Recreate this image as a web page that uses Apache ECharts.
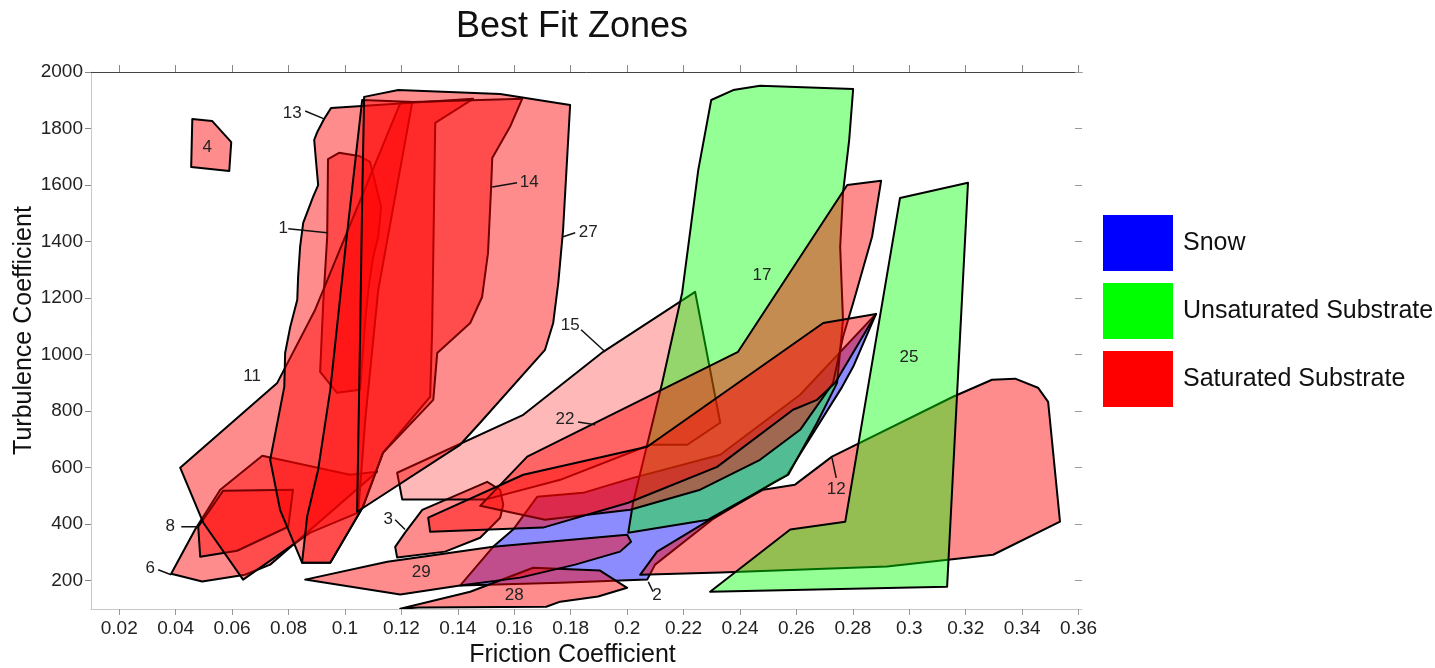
<!DOCTYPE html>
<html>
<head>
<meta charset="utf-8">
<title>Best Fit Zones</title>
<script src="https://cdn.jsdelivr.net/npm/echarts@6/dist/echarts.min.js"></script>
<style>
  html, body { margin: 0; padding: 0; background: #fff; }
  #chart { width: 1435px; height: 668px; }
</style>
</head>
<body>
<div id="chart"></div>
<script>
// zone outlines, [friction, turbulence]
const zone1 = [[0.0940,1692],[0.0979,1714],[0.1050,1703],[0.1089,1682],[0.1128,1523],[0.1118,1417],[0.1100,1346],[0.1086,1254],[0.1072,1123],[0.1054,876],[0.0972,865],[0.0912,939],[0.0923,1183],[0.0937,1417]];
const zone2 = [[0.1408,183],[0.1525,320],[0.1596,381],[0.1681,497],[0.1844,511],[0.2021,564],[0.2330,646],[0.2613,858],[0.2882,1144],[0.2801,957],[0.2762,886],[0.2567,575],[0.2517,547],[0.2301,416],[0.2099,257],[0.2071,204],[0.1763,193]];
const zone3 = [[0.1185,282],[0.1178,320],[0.1213,370],[0.1274,451],[0.1504,550],[0.1550,522],[0.1561,469],[0.1550,423],[0.1479,352],[0.1355,303]];
const zone4 = [[0.0459,1834],[0.0529,1827],[0.0597,1752],[0.0590,1650],[0.0455,1664]];
const zone6 = [[0.0384,225],[0.0494,197],[0.0646,221],[0.0735,257],[0.1114,586],[0.1018,575],[0.0707,642],[0.0558,522],[0.0469,381]];
const zone8 = [[0.0480,391],[0.0487,285],[0.0618,306],[0.0799,391],[0.0816,522],[0.0568,518]];
const zone11 = [[0.0416,600],[0.0760,900],[0.0894,1158],[0.1196,1890],[0.1238,1890],[0.1118,1229],[0.1072,770],[0.1047,441],[0.0877,370],[0.0639,204],[0.0498,405]];
const zone12 = [[0.2046,221],[0.2106,303],[0.2294,416],[0.2482,522],[0.2595,540],[0.2726,639],[0.3155,851],[0.3293,911],[0.3375,915],[0.3456,883],[0.3492,833],[0.3534,409],[0.3297,292],[0.2921,250],[0.2330,229]];
const zone13 = [[0.0951,1873],[0.1454,1905],[0.1320,1820],[0.1309,1088],[0.1302,851],[0.1135,653],[0.1064,462],[0.0948,264],[0.0848,264],[0.0770,451],[0.0735,628],[0.0785,886],[0.0788,1006],[0.0806,1098],[0.0831,1194],[0.0834,1275],[0.0841,1381],[0.0852,1466],[0.0887,1558],[0.0905,1600],[0.0898,1678],[0.0891,1760],[0.0902,1788],[0.0926,1834]];
const zone14 = [[0.1061,1901],[0.1242,1894],[0.1628,1905],[0.1585,1806],[0.1522,1696],[0.1518,1593],[0.1507,1360],[0.1486,1204],[0.1444,1112],[0.1327,1006],[0.1313,840],[0.1135,653],[0.1064,462],[0.0948,264],[0.0848,264],[0.0866,427],[0.0905,593],[0.0948,876],[0.1001,1371]];
const zone15 = [[0.1185,582],[0.1632,787],[0.1915,1010],[0.2241,1222],[0.2330,759],[0.2213,681],[0.2082,681],[0.1763,557],[0.1497,487],[0.1203,487]];
const zone17 = [[0.2298,1901],[0.2376,1936],[0.2471,1951],[0.2801,1940],[0.2787,1760],[0.2765,1572],[0.2755,1381],[0.2765,1123],[0.2744,900],[0.2673,759],[0.2571,575],[0.2287,416],[0.2004,370],[0.2021,476],[0.2124,900],[0.2195,1219],[0.2252,1653]];
const zone22 = [[0.1479,465],[0.1646,639],[0.2393,1010],[0.2780,1600],[0.2900,1615],[0.2868,1417],[0.2801,1183],[0.2765,1063],[0.2730,900],[0.2613,734],[0.2471,628],[0.2259,522],[0.2011,451],[0.1709,416]];
const zoneBand = [[0.1295,423],[0.1632,575],[0.2071,674],[0.2695,1112],[0.2882,1144],[0.2737,900],[0.2673,840],[0.2588,805],[0.2319,603],[0.2004,476],[0.1702,388],[0.1302,373]];
const zone25 = [[0.2967,1554],[0.3208,1608],[0.3134,179],[0.2294,161],[0.2578,381],[0.2773,409]];
const zone27 = [[0.1068,1912],[0.1189,1936],[0.1550,1922],[0.1798,1883],[0.1773,1441],[0.1756,1254],[0.1738,1112],[0.1709,1017],[0.1479,759],[0.1408,681],[0.1043,444],[0.1054,1088],[0.1061,1547]];
const zone28 = [[0.1196,101],[0.1444,161],[0.1667,246],[0.1904,236],[0.2000,175],[0.1897,144],[0.1763,126],[0.1713,108],[0.1259,105]];
const zone29 = [[0.0859,204],[0.1150,267],[0.1525,320],[0.2000,363],[0.2014,338],[0.1975,303],[0.1816,257],[0.1621,211],[0.1408,183],[0.1196,151]];

// draw order (later ones on top) and zone type
const zones = [zone1, zone2, zone3, zone4, zone6, zone8, zone11, zone12, zone13, zone14, zone15, zone17, zone22, zoneBand, zone25, zone27, zone28, zone29];
const zoneType = ['sat','snow','sat','sat','sat','sat','sat','sat','sat','sat','pale','unsat','sat','sat','unsat','sat','sat','sat'];

// zone number labels and leader lines
const labelText = ['1','2','3','4','6','8','11','12','13','14','15','17','22','25','27','28','29'];
const labelAt = [[0.0781,1448],[0.2106,147],[0.1153,419],[0.0512,1735],[0.0310,243],[0.0381,391],[0.0671,922],[0.2741,522],[0.0813,1855],[0.1653,1608],[0.1798,1102],[0.2478,1282],[0.1780,770],[0.2999,989],[0.1862,1434],[0.1600,147],[0.1270,229]];
const leaderFrom = [[0.0799,1445],[0.2092,161],[0.1178,416],null,[0.0338,239],[0.0420,391],null,[0.2741,564],[0.0859,1862],[0.1522,1593],[0.1837,1088],null,[0.1826,762],null,[0.1773,1417],null,null];
const leaderTo = [[0.0937,1431],[0.2075,196],[0.1213,381],null,[0.0384,221],[0.0480,391],null,[0.2726,635],[0.0926,1834],[0.1610,1608],[0.1922,1010],null,[0.1887,752],null,[0.1816,1431],null,null];

const xTicks = [0.02,0.04,0.06,0.08,0.1,0.12,0.14,0.16,0.18,0.2,0.22,0.24,0.26,0.28,0.3,0.32,0.34,0.36];
const yTicks = [200,400,600,800,1000,1200,1400,1600,1800,2000];

const legendNames = ['Snow', 'Unsaturated Substrate', 'Saturated Substrate'];
const legendColors = ['#0000ff', '#00ff00', '#ff0000'];

const fills = {
  sat: 'rgba(255,0,0,0.45)',
  pale: 'rgba(255,0,0,0.28)',
  snow: 'rgba(0,0,255,0.45)',
  unsat: 'rgba(0,255,0,0.42)'
};
const font = '"Liberation Sans", Arial, sans-serif';

const chart = echarts.init(document.getElementById('chart'));

const option = {
  animation: false,
  title: {
    text: 'Best Fit Zones',
    left: 451,
    top: 4,
    textStyle: { fontSize: 36, fontWeight: 'normal', color: '#111', fontFamily: font }
  },
  legend: {
    orient: 'vertical',
    left: 1103,
    top: 215,
    padding: 0,
    itemWidth: 70,
    itemHeight: 56,
    itemGap: 12,
    icon: 'rect',
    selectedMode: false,
    textStyle: { fontSize: 25, color: '#111', fontFamily: font, padding: [0, 0, 0, 5] },
    data: legendNames.map((n, i) => ({ name: n, itemStyle: { color: legendColors[i], opacity: 1 } }))
  },
  grid: { left: 91, right: 353, top: 72, bottom: 59, outerBoundsMode: 'none', containLabel: false },
  xAxis: [
    {
      type: 'value', min: 0.01, max: 0.3612, position: 'bottom',
      name: 'Friction Coefficient', nameLocation: 'middle', nameGap: 34, nameMoveOverlap: false,
      nameTextStyle: { fontSize: 25, color: '#111', fontFamily: font, padding: [0, 28, 0, 0] },
      axisLine: { lineStyle: { color: '#c8c8c8', width: 1 } },
      axisTick: { show: true, customValues: xTicks, length: 6, lineStyle: { color: '#999' } },
      axisLabel: {
        customValues: xTicks, fontSize: 19, color: '#222', fontFamily: font, margin: 10,
        formatter: v => String(Number(v.toFixed(2)))
      },
      splitLine: { show: false }
    },
    {
      type: 'value', min: 0.01, max: 0.3612, position: 'top',
      axisLine: { lineStyle: { color: '#444', width: 1 } },
      axisTick: { show: true, customValues: xTicks, length: 7, lineStyle: { color: '#888' } },
      axisLabel: { show: false },
      splitLine: { show: false }
    }
  ],
  yAxis: [
    {
      type: 'value', min: 100, max: 2000, position: 'left',
      name: 'Turbulence Coefficient', nameLocation: 'middle', nameGap: 54, nameMoveOverlap: false,
      nameTextStyle: { fontSize: 25, color: '#111', fontFamily: font, padding: [0, 0, 0, 20] },
      axisLine: { show: true, lineStyle: { color: '#c8c8c8', width: 1 } },
      axisTick: { show: true, customValues: yTicks, length: 6, lineStyle: { color: '#888' } },
      axisLabel: {
        customValues: yTicks, fontSize: 19, color: '#222', fontFamily: font, margin: 8,
        formatter: v => String(v)
      },
      splitLine: { show: false }
    },
    {
      type: 'value', min: 100, max: 2000, position: 'right',
      axisLine: { show: false },
      axisTick: { show: true, inside: true, customValues: yTicks, length: 7, lineStyle: { color: '#999' } },
      axisLabel: { show: false },
      splitLine: { show: false }
    }
  ],
  series: [
    {
      type: 'custom',
      name: 'zones',
      clip: true,
      silent: true,
      data: zones.map(z => z[0]),
      renderItem: function (params, api) {
        const i = params.dataIndex;
        const pts = zones[i].map(p => api.coord(p));
        return {
          type: 'polygon',
          shape: { points: pts },
          style: { fill: fills[zoneType[i]], stroke: '#000', lineWidth: 2, lineJoin: 'round' }
        };
      }
    },
    {
      type: 'custom',
      name: 'labels',
      silent: true,
      z: 5,
      data: labelAt,
      renderItem: function (params, api) {
        const i = params.dataIndex;
        const p = api.coord(labelAt[i]);
        const kids = [];
        if (leaderFrom[i]) {
          const a = api.coord(leaderFrom[i]);
          const b = api.coord(leaderTo[i]);
          kids.push({ type: 'line', shape: { x1: a[0], y1: a[1], x2: b[0], y2: b[1] }, style: { stroke: '#111', lineWidth: 1.5 } });
        }
        kids.push({
          type: 'text', x: p[0], y: p[1],
          style: { text: labelText[i], fill: '#222', font: '17px ' + font, textAlign: 'center', textVerticalAlign: 'middle' }
        });
        return { type: 'group', children: kids };
      }
    },
    // legend entries only
    { type: 'custom', name: 'Snow', data: [], itemStyle: { color: '#0000ff' }, renderItem: () => null },
    { type: 'custom', name: 'Unsaturated Substrate', data: [], itemStyle: { color: '#00ff00' }, renderItem: () => null },
    { type: 'custom', name: 'Saturated Substrate', data: [], itemStyle: { color: '#ff0000' }, renderItem: () => null }
  ]
};

chart.setOption(option);
</script>
</body>
</html>
